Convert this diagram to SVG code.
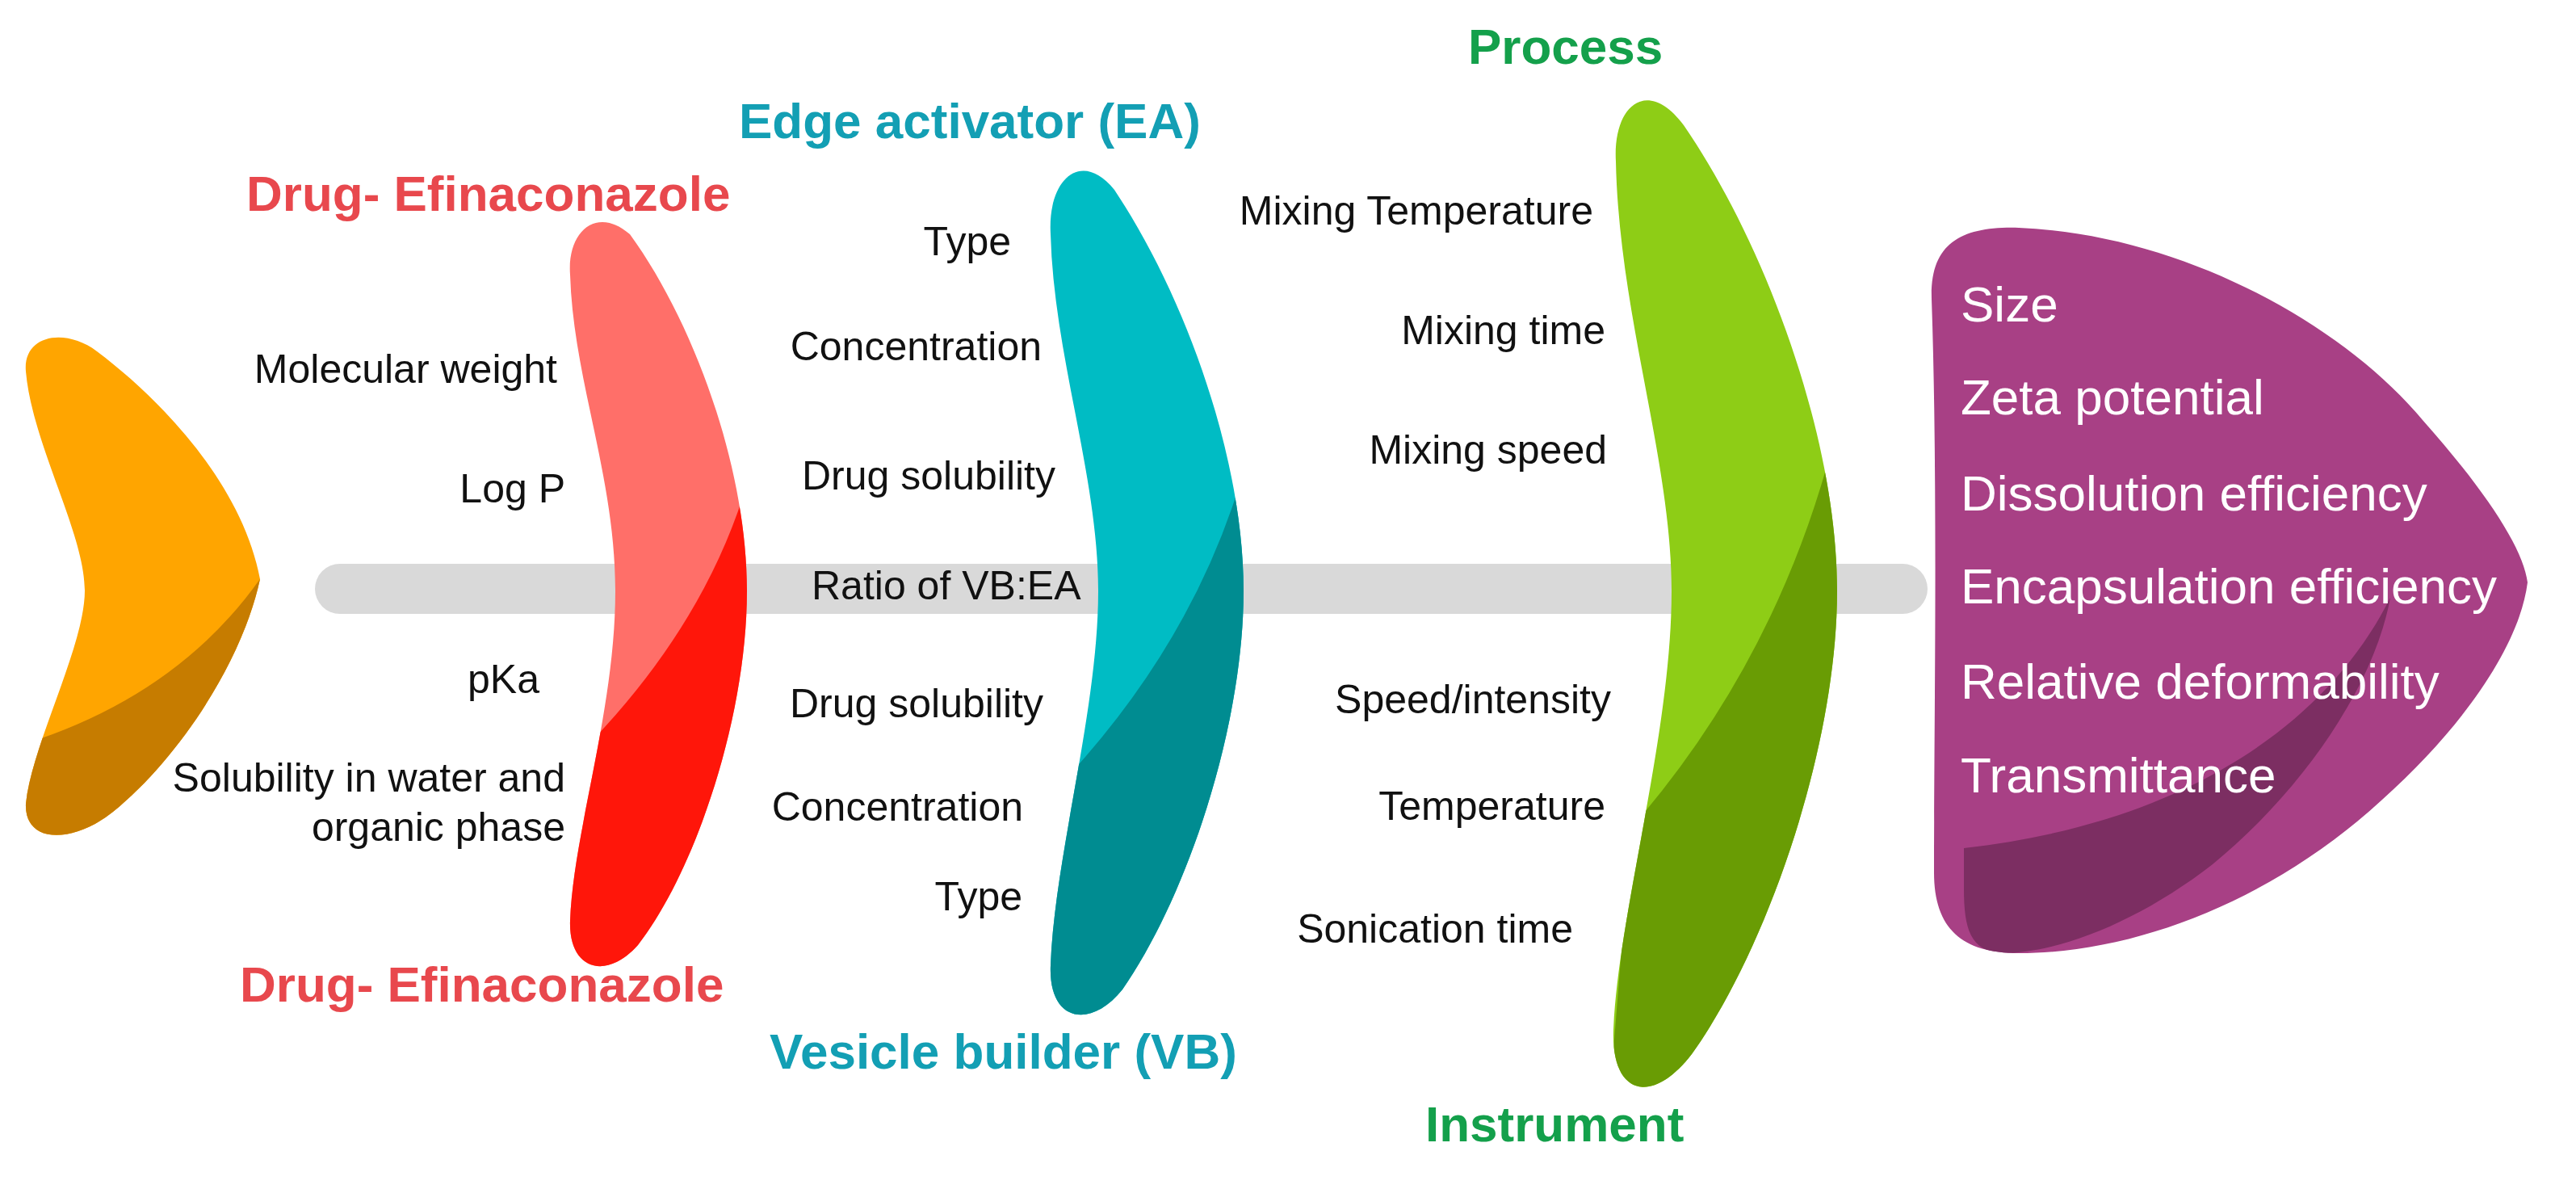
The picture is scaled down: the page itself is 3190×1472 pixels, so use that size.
<svg xmlns="http://www.w3.org/2000/svg" width="3190" height="1472" viewBox="0 0 3190 1472">
<style>
.t{font-family:"Liberation Sans",Arial,sans-serif;font-size:50px;fill:#111}
.r{text-anchor:end}
.h{font-family:"Liberation Sans",Arial,sans-serif;font-size:62px;font-weight:bold}
.w{font-family:"Liberation Sans",Arial,sans-serif;font-size:62px;fill:#fff}
</style>
<defs>
<clipPath id="cO"><path id="pO" d="M32,460 C28,415 80,405 120,435 C200,495 300,600 322,717 C300,820 220,940 140,1005 C90,1045 30,1045 32,995 C40,920 105,800 105,731 C105,660 40,550 32,460 Z"/></clipPath>
<clipPath id="cR"><path d="M706,340 C702,285 740,255 780,290 C860,400 925,580 925,731 C925,890 860,1080 790,1170 C750,1215 704,1200 706,1140 C710,1030 762,880 762,731 C762,590 710,470 706,340 Z"/></clipPath>
<clipPath id="cT"><path d="M1301,290 C1297,220 1340,185 1380,235 C1470,370 1540,570 1540,731 C1540,900 1470,1110 1390,1225 C1350,1275 1298,1265 1301,1195 C1306,1060 1360,880 1360,731 C1360,590 1305,440 1301,290 Z"/></clipPath>
<clipPath id="cG"><path d="M2001,200 C1997,130 2040,95 2085,155 C2185,300 2275,540 2275,731 C2275,930 2185,1180 2095,1305 C2045,1370 1995,1355 1998,1275 C2004,1130 2070,910 2070,731 C2070,570 2005,390 2001,200 Z"/></clipPath>
<clipPath id="cP"><path d="M2392,370 C2390,300 2430,280 2500,282 C2700,290 2900,400 3000,520 C3080,610 3125,680 3130,721 C3120,800 3050,900 2950,990 C2820,1110 2650,1180 2500,1180 C2430,1180 2395,1150 2395,1080 C2395,900 2400,600 2392,370 Z"/></clipPath>
</defs>
<g id="connectors">
<rect x="390" y="698" width="1997" height="62" rx="31" fill="#D9D9D9"/>
</g>
<g id="head">
<rect x="0" y="380" width="400" height="700" fill="#FFA500" clip-path="url(#cO)"/>
<path d="M0,930 Q220,870 330,705 L400,705 L400,1100 L0,1100 Z" fill="#C67C00" clip-path="url(#cO)"/>
</g>
<g id="drug">
<rect x="690" y="240" width="260" height="980" fill="#FF6F69" clip-path="url(#cR)"/>
<path d="M690,960 Q860,800 920,615 L1000,615 L1000,1300 L690,1300 Z" fill="#FF160A" clip-path="url(#cR)"/>
<text class="h" x="305" y="261" fill="#E8484D">Drug- Efinaconazole</text>
<text class="h" x="297" y="1240" fill="#E8484D">Drug- Efinaconazole</text>
<text class="t r" x="690" y="474">Molecular weight</text>
<text class="t r" x="700" y="622">Log P</text>
<text class="t r" x="668" y="858">pKa</text>
<text class="t r" x="700" y="980">Solubility in water and</text>
<text class="t r" x="700" y="1041">organic phase</text>
</g>
<g id="ea-vb">
<rect x="1290" y="180" width="260" height="1100" fill="#00BCC4" clip-path="url(#cT)"/>
<path d="M1300,985 Q1470,810 1535,600 L1600,600 L1600,1300 L1300,1300 Z" fill="#008C91" clip-path="url(#cT)"/>
<text class="h" x="915" y="171" fill="#139FB4">Edge activator (EA)</text>
<text class="h" x="953" y="1323" fill="#139FB4">Vesicle builder (VB)</text>
<text class="t r" x="1252" y="316">Type</text>
<text class="t r" x="1290" y="446">Concentration</text>
<text class="t r" x="1307" y="606">Drug solubility</text>
<text class="t" x="1005" y="742">Ratio of VB:EA</text>
<text class="t r" x="1292" y="888">Drug solubility</text>
<text class="t r" x="1267" y="1016">Concentration</text>
<text class="t r" x="1266" y="1127">Type</text>
</g>
<g id="process">
<rect x="1990" y="90" width="300" height="1280" fill="#8ECD16" clip-path="url(#cG)"/>
<path d="M2020,1025 Q2190,830 2262,578 L2330,578 L2330,1400 L1990,1400 Z" fill="#699C04" clip-path="url(#cG)"/>
<text class="h" x="1818" y="79" fill="#14A04B">Process</text>
<text class="h" x="1765" y="1413" fill="#14A04B">Instrument</text>
<text class="t r" x="1973" y="278">Mixing Temperature</text>
<text class="t r" x="1988" y="426">Mixing time</text>
<text class="t r" x="1990" y="574">Mixing speed</text>
<text class="t r" x="1995" y="883">Speed/intensity</text>
<text class="t r" x="1988" y="1015">Temperature</text>
<text class="t r" x="1948" y="1167">Sonication time</text>
</g>
<g id="outcome">
<rect x="2380" y="270" width="760" height="920" fill="#A84085" clip-path="url(#cP)"/>
<path d="M2432,1050 C2700,1020 2880,900 2960,740 C2940,850 2850,980 2740,1070 C2650,1140 2550,1180 2480,1180 C2440,1178 2432,1150 2432,1100 Z" fill="#7C2E62" clip-path="url(#cP)"/>
<text class="w" x="2428" y="398">Size</text>
<text class="w" x="2428" y="513">Zeta potential</text>
<text class="w" x="2428" y="632">Dissolution efficiency</text>
<text class="w" x="2428" y="747">Encapsulation efficiency</text>
<text class="w" x="2428" y="865">Relative deformability</text>
<text class="w" x="2428" y="981">Transmittance</text>
</g>
</svg>
